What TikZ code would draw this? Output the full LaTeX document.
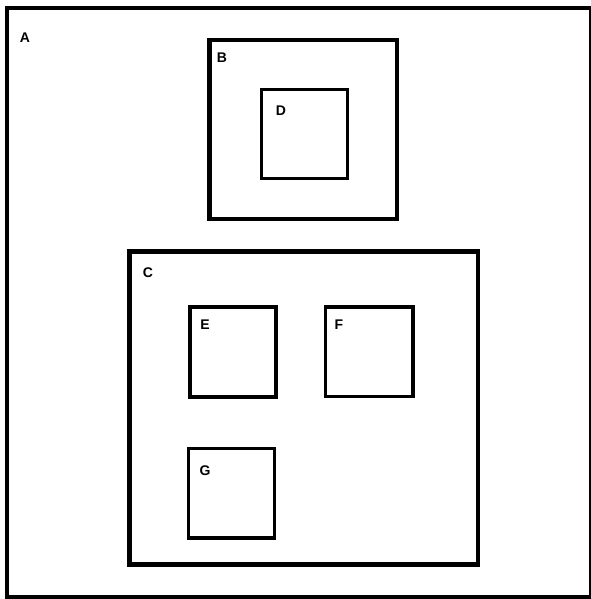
\documentclass[tikz,border=0pt]{standalone}
\usepackage{fontspec}
\setsansfont{Liberation Sans}
\usetikzlibrary{positioning,calc}
\definecolor{lineColor}{RGB}{0,0,0}

\begin{document}
\begin{tikzpicture}[
  x=1pt, y=-1pt,
  font=\sffamily\bfseries\fontsize{14}{16}\selectfont,
  region/.style={draw=lineColor, fill=white, inner sep=0pt, anchor=north west},
  heavy/.style={region, line width=4.5pt},
  medium/.style={region, line width=3.5pt},
  light/.style={region, line width=3pt},
  tag/.style={text=lineColor, inner sep=0pt}
]
\useasboundingbox (0,0) rectangle (590,599);

% Outer region
\node[region, line width=4pt, minimum width=584.5pt, minimum height=588.5pt] (ra) at (4.5,6.5) {};
\node[tag] at (25,38) {A};

% Region B with D inside
\node[heavy, minimum width=187.5pt, minimum height=178.5pt] (rb) at (207,38) {};
\node[tag] at (222,58) {B};
\node[light, minimum width=86pt, minimum height=88.5pt] (rd) at (259.5,88.5) {};
\node[tag] at (281,111) {D};

% Region C with E, F, G inside
\node[heavy, minimum width=348.5pt, minimum height=313pt] (rc) at (127,249) {};
\node[tag] at (148,273) {C};
\node[medium, line width=4pt, minimum width=86pt, minimum height=89.5pt] (re) at (188,305) {};
\node[tag] at (205,325) {E};
\node[medium, minimum width=87.5pt, minimum height=89.5pt] (rf) at (323.5,305) {};
\node[tag] at (339,325) {F};
\node[medium, minimum width=86pt, minimum height=89.5pt] (rg) at (186.5,446.5) {};
\node[tag] at (205,471) {G};

\end{tikzpicture}
\end{document}
